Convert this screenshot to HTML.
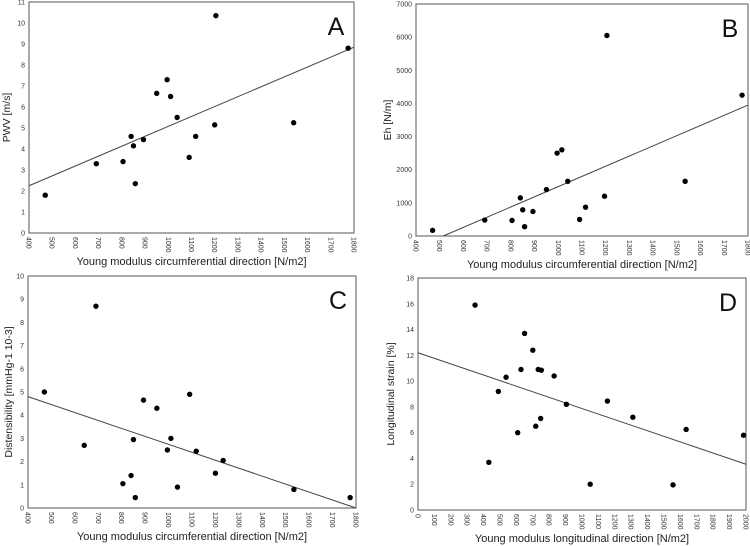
<!DOCTYPE html>
<html><head><meta charset="utf-8">
<style>
html,body{margin:0;padding:0;background:#fff;}
svg{display:block;font-family:"Liberation Sans",sans-serif;}
</style></head>
<body>
<svg id="chart" width="750" height="546" viewBox="0 0 750 546"></svg>
<script>
// Panel A data
const aX=[470,690,805,840,850,858,893,950,995,1010,1038,1090,1118,1200,1205,1540,1775];
const aY=[1.8,3.3,3.4,4.6,4.15,2.35,4.45,6.65,7.3,6.5,5.5,3.6,4.6,5.15,10.35,5.25,8.8];
const aLine=[[400,2.25],[1800,8.85]];
// Panel B data
const bX=[470,690,805,840,850,858,893,950,995,1015,1040,1090,1115,1195,1205,1535,1775];
const bY=[170,480,470,1150,790,280,740,1400,2500,2600,1650,500,870,1200,6050,1650,4250];
const bLine=[[515,0],[1800,3950]];
// Panel C data
const cX=[470,640,690,805,840,850,858,893,950,995,1010,1038,1090,1118,1200,1233,1535,1775];
const cY=[5.0,2.7,8.7,1.05,1.4,2.95,0.45,4.65,4.3,2.5,3.0,0.9,4.9,2.45,1.5,2.05,0.8,0.45];
const cLine=[[400,4.8],[1800,0]];
// Panel D data
const dX=[348,432,490,537,608,628,650,700,718,733,748,752,830,905,1050,1155,1310,1555,1635,1985];
const dY=[15.9,3.7,9.2,10.3,6.0,10.9,13.7,12.4,6.5,10.9,7.1,10.85,10.4,8.2,2.0,8.45,7.2,1.95,6.25,5.8];
const dLine=[[0,12.2],[2000,3.55]];
// ticks
const circTicks=[400,500,600,700,800,900,1000,1100,1200,1300,1400,1500,1600,1700,1800];
const longTicks=[0,100,200,300,400,500,600,700,800,900,1000,1100,1200,1300,1400,1500,1600,1700,1800,1900,2000];
const aYTicks=[0,1,2,3,4,5,6,7,8,9,10,11];
const bYTicks=[0,1000,2000,3000,4000,5000,6000,7000];
const cYTicks=[0,1,2,3,4,5,6,7,8,9,10];
const dYTicks=[0,2,4,6,8,10,12,14,16,18];

const NS="http://www.w3.org/2000/svg";
const svg=document.getElementById('chart');
function mk(tag,attrs,parent){const e=document.createElementNS(NS,tag);for(const k in attrs)e.setAttribute(k,attrs[k]);parent.appendChild(e);return e;}

function panel(id,f,xs,ys,line,xt,yt,xmin,xmax,ymin,ymax,xtitle,ytitle,letter,ytx){
  const g=mk('g',{},svg);
  
  
  const sx=v=>f.l+(v-xmin)/(xmax-xmin)*(f.r-f.l);
  const sy=v=>f.b-(v-ymin)/(ymax-ymin)*(f.b-f.t);
  const fr=mk('rect',{x:f.l,y:f.t,width:f.r-f.l,height:f.b-f.t,fill:'none',stroke:'#555','stroke-width':1},g);
  
  
  xt.forEach(v=>{
    const x=sx(v);
    const t=mk('text',{x:0,y:0,transform:`translate(${x-2.5},${f.b+4}) rotate(90)`,'font-size':7,fill:'#333'},g);
    t.textContent=v;
    
    
  });
  yt.forEach(v=>{
    const t=mk('text',{x:f.l-4,y:sy(v)+2.5,'font-size':7,fill:'#333','text-anchor':'end'},g);
    t.textContent=v;
    
    
  });
  const xtt=mk('text',{x:(f.l+f.r)/2,y:f.b+32,'font-size':11,fill:'#222','text-anchor':'middle'},g);
  xtt.textContent=xtitle;
  
  
  const ytt=mk('text',{x:0,y:0,transform:`translate(${ytx},${(f.t+f.b)/2}) rotate(-90)`,'font-size':10.5,fill:'#222','text-anchor':'middle'},g);
  ytt.textContent=ytitle;
  
  
  const ln=mk('line',{x1:sx(line[0][0]),y1:sy(line[0][1]),x2:sx(line[1][0]),y2:sy(line[1][1]),stroke:'#444','stroke-width':1},g);
  
  
  xs.forEach((v,i)=>{
    const c=mk('circle',{cx:sx(v),cy:sy(ys[i]),r:2.7,fill:'#000'},g);
    
    
  });
  const lt=mk('text',{x:f.r-18,y:f.t+33,'font-size':25,fill:'#111','text-anchor':'middle'},g);
  lt.textContent=letter;
  
  
}
const XT='Young modulus circumferential direction [N/m2]';
panel('a',{l:29,r:354,t:2,b:233},aX,aY,aLine,circTicks,aYTicks,400,1800,0,11,XT,'PWV  [m/s]','A',10);
panel('b',{l:416,r:748,t:4,b:236},bX,bY,bLine,circTicks,bYTicks,400,1800,0,7000,XT,'Eh [N/m]','B',391);
panel('c',{l:28,r:356,t:276,b:508},cX,cY,cLine,circTicks,cYTicks,400,1800,0,10,XT,'Distensibility [mmHg-1 10-3]','C',12);
panel('d',{l:418,r:746,t:278,b:510},dX,dY,dLine,longTicks,dYTicks,0,2000,0,18,'Young modulus longitudinal direction [N/m2]','Longitudinal strain [%]','D',394);
</script>
</body></html>
